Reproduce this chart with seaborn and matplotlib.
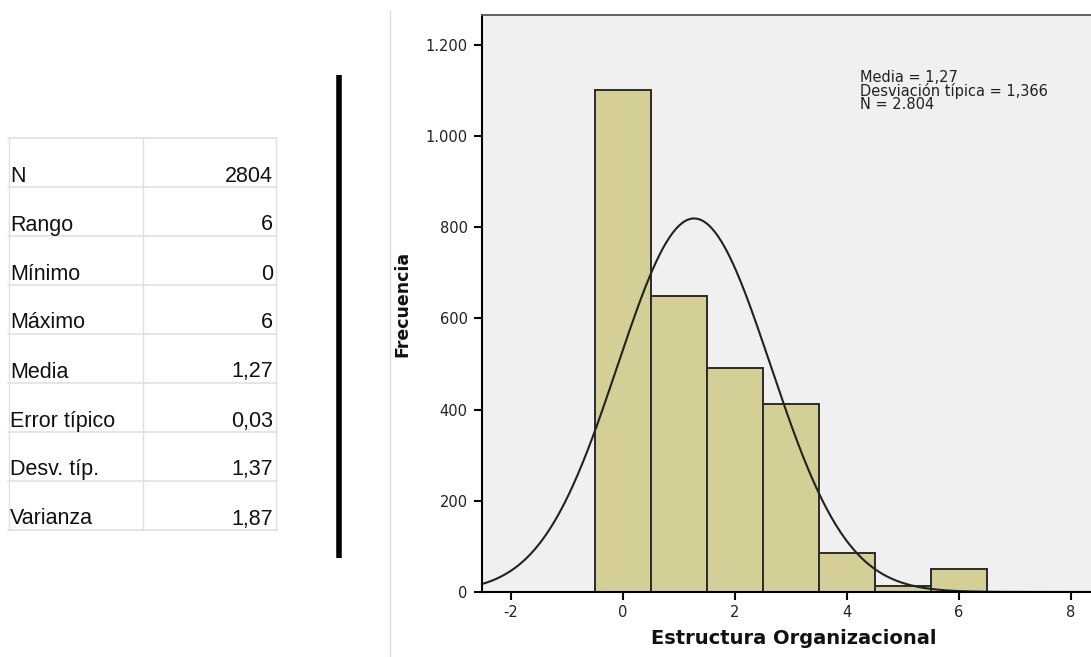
import numpy as np
import pandas as pd
import seaborn as sns
import matplotlib
matplotlib.use("Agg")
import matplotlib.pyplot as plt
from matplotlib.ticker import FuncFormatter

# ---- data ----
stat_labels = ["N", "Rango", "Mínimo", "Máximo", "Media", "Error típico", "Desv. típ.", "Varianza"]
stat_values = ["2804", "6", "0", "6", "1,27", "0,03", "1,37", "1,87"]

scores = [0, 1, 2, 3, 4, 5, 6]
freqs = [1100, 650, 492, 412, 86, 14, 50]

mean_val = 1.27
sd_val = 1.366
n_val = 2804
x_ticks = [-2, 0, 2, 4, 6, 8]
y_ticks = [0, 200, 400, 600, 800, 1000, 1200]

x_label = "Estructura Organizacional"
y_label = "Frecuencia"
note_lines = ["Media = 1,27", "Desviación típica = 1,366", "N = 2.804"]

# ---- figure ----
sns.set_theme(style="white")
plt.rcParams["font.family"] = ["DejaVu Sans"]
plt.rcParams["axes.unicode_minus"] = False
table_font = ["Liberation Sans", "DejaVu Sans"]

W, H = 1091, 657
fig = plt.figure(figsize=(W / 100, H / 100), dpi=100)
fig.patch.set_facecolor("white")

# overlay in pixel coordinates for table and separators
ov = fig.add_axes([0, 0, 1, 1])
ov.set_xlim(0, W)
ov.set_ylim(H, 0)
ov.axis("off")

row_top = 137.5
row_h = 49.0
n_rows = len(stat_labels)
grid_c = "#e0e0e0"
for i in range(n_rows + 1):
    y = row_top + i * row_h
    ov.plot([8, 277], [y, y], color=grid_c, lw=1.2)
for xv in [9, 143, 276]:
    ov.plot([xv, xv], [row_top, row_top + n_rows * row_h], color=grid_c, lw=1.0)
for i, (lab, val) in enumerate(zip(stat_labels, stat_values)):
    yb = row_top + (i + 1) * row_h - 5
    ov.text(10, yb, lab, ha="left", va="baseline", fontsize=15.5, color="#111111", family=table_font)
    ov.text(273, yb, val, ha="right", va="baseline", fontsize=15.5, color="#111111", family=table_font)

ov.plot([338.5, 338.5], [75, 558], color="black", lw=4, solid_capstyle="butt")
ov.plot([389.5, 389.5], [10, H], color="#dcdcdc", lw=1)

# ---- histogram axes ----
ax_left, ax_right = 482, W
ax_top, ax_bot = 15, 592
ax = fig.add_axes([ax_left / W, (H - ax_bot) / H, (ax_right - ax_left) / W, (ax_bot - ax_top) / H])
ax.set_facecolor("#f0f0f0")

df = pd.DataFrame({"score": scores, "freq": freqs})
sns.histplot(data=df, x="score", weights="freq", discrete=True, ax=ax,
             color="#d3cf96", alpha=1.0, edgecolor="#2b2b2b", linewidth=1.4)

xs = np.linspace(-2.6, 8.6, 400)
ys = n_val * 1.0 / (sd_val * np.sqrt(2 * np.pi)) * np.exp(-0.5 * ((xs - mean_val) / sd_val) ** 2)
sns.lineplot(x=xs, y=ys, ax=ax, color="#222222", linewidth=1.5)

px_per_unit = 56.0
ax.set_xlim(-2 - (511 - ax_left) / px_per_unit, -2 + (ax_right - 511) / px_per_unit)
ax.set_ylim(0, 1265)
ax.set_xticks(x_ticks)
ax.set_yticks(y_ticks)
ax.yaxis.set_major_formatter(FuncFormatter(lambda v, p: f"{int(v):,}".replace(",", ".")))

ax.tick_params(axis="both", direction="out", length=6, width=1.5, color="black",
               labelsize=10.5, labelcolor="#222222", left=True, bottom=True)
ax.tick_params(axis="y", pad=4.3)
ax.tick_params(axis="x", pad=3.6)

for side in ["left", "bottom"]:
    ax.spines[side].set_color("black")
    ax.spines[side].set_linewidth(1.5)
ax.spines["top"].set_color("#555555")
ax.spines["top"].set_linewidth(1.3)
ax.spines["right"].set_visible(False)

ax.set_xlabel(x_label, fontsize=14, fontweight="bold", color="#111111")
ax.set_ylabel(y_label, fontsize=12.5, fontweight="bold", color="#111111")
ax.yaxis.set_label_coords(-0.1166, 0.5)
ax.xaxis.set_label_coords(0.512, -0.064)
ax.xaxis.label.set_va("top")

ax.text(0.621, 0.905, "\n".join(note_lines), transform=ax.transAxes, ha="left", va="top",
        fontsize=10.5, color="#222222", linespacing=0.85)

fig.savefig("out.png", dpi=100)
